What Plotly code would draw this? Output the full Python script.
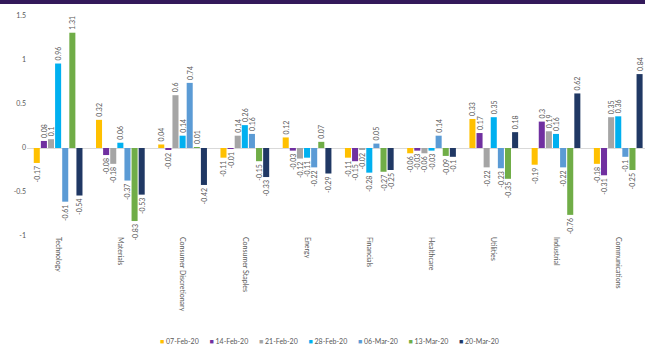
import plotly.graph_objects as go

# Weekly sector returns (%)
sectors = ["Technology", "Materials", "Consumer Discretionary", "Consumer Staples",
           "Energy", "Financials", "Healthcare", "Utilities", "Industrial", "Communications"]

weeks = ["07-Feb-20", "14-Feb-20", "21-Feb-20", "28-Feb-20", "06-Mar-20", "13-Mar-20", "20-Mar-20"]

feb07 = [-0.17, 0.32, 0.04, -0.11, 0.12, -0.11, -0.06, 0.33, -0.19, -0.18]
feb14 = [0.08, -0.08, -0.02, -0.01, -0.03, -0.15, -0.03, 0.17, 0.3, -0.31]
feb21 = [0.1, -0.18, 0.6, 0.14, -0.12, -0.02, -0.06, -0.22, 0.19, 0.35]
feb28 = [0.96, 0.06, 0.14, 0.26, -0.11, -0.28, -0.03, 0.35, 0.16, 0.36]
mar06 = [-0.61, -0.37, 0.74, 0.16, -0.22, 0.05, 0.14, -0.23, -0.22, -0.1]
mar13 = [1.31, -0.83, 0.01, -0.15, 0.07, -0.27, -0.09, -0.35, -0.76, -0.25]
mar20 = [-0.54, -0.53, -0.42, -0.33, -0.29, -0.25, -0.1, 0.18, 0.62, 0.84]

series = [feb07, feb14, feb21, feb28, mar06, mar13, mar20]
colors = ["#FFC000", "#7030A0", "#A5A5A5", "#00B0F0", "#5B9BD5", "#70AD47", "#203864"]

y_ticks = [1.5, 1, 0.5, 0, -0.5, -1]
y_tick_text = ["1.5", "1", "0.5", "0", "-0.5", "-1"]

FONT = "Lato, 'Open Sans', sans-serif"
GREY = "#595959"

fig = go.Figure()
for name, vals, col in zip(weeks, series, colors):
    fig.add_trace(go.Bar(
        x=sectors, y=vals, name=name,
        marker=dict(color=col, line=dict(width=0)),
        text=[str(v) for v in vals],
        textposition="outside", textangle=-90,
        textfont=dict(family=FONT, size=7, color=GREY),
        constraintext="none", cliponaxis=False,
        showlegend=False,
    ))

# Legend row drawn as a single centred line of coloured squares and labels
legend_parts = [f"<span style='color:{c}'>■</span> {w}" for w, c in zip(weeks, colors)]
legend_text = "&nbsp;&nbsp;&nbsp;&nbsp;&nbsp;&nbsp;".join(legend_parts)

fig.update_layout(
    width=645, height=351,
    margin=dict(l=27, r=0, t=16, b=115),
    paper_bgcolor="white", plot_bgcolor="white",
    font=dict(family=FONT, color=GREY),
    barmode="group", bargap=0.2, bargroupgap=0.15,
    xaxis=dict(type="category", range=[-0.5, 9.43], tickangle=90,
               tickfont=dict(family=FONT, size=7, color=GREY),
               showline=False, showgrid=False, ticks=""),
    yaxis=dict(range=[-1, 1.5], tickvals=y_ticks, ticktext=y_tick_text,
               tickfont=dict(family=FONT, size=7, color=GREY),
               showgrid=False, zeroline=True, zerolinecolor="#D9D9D9",
               zerolinewidth=1, showline=False, ticks=""),
    annotations=[dict(text=legend_text, xref="paper", yref="paper",
                      x=0.49, y=-0.477, xanchor="center", yanchor="middle",
                      showarrow=False, font=dict(family=FONT, size=7, color=GREY))],
    shapes=[dict(type="rect", xref="paper", yref="paper",
                 x0=-0.05, x1=1.01, y0=1.0545, y1=1.08,
                 fillcolor="#33195A", line=dict(width=0), layer="above")],
)

fig.write_html("out.html")
